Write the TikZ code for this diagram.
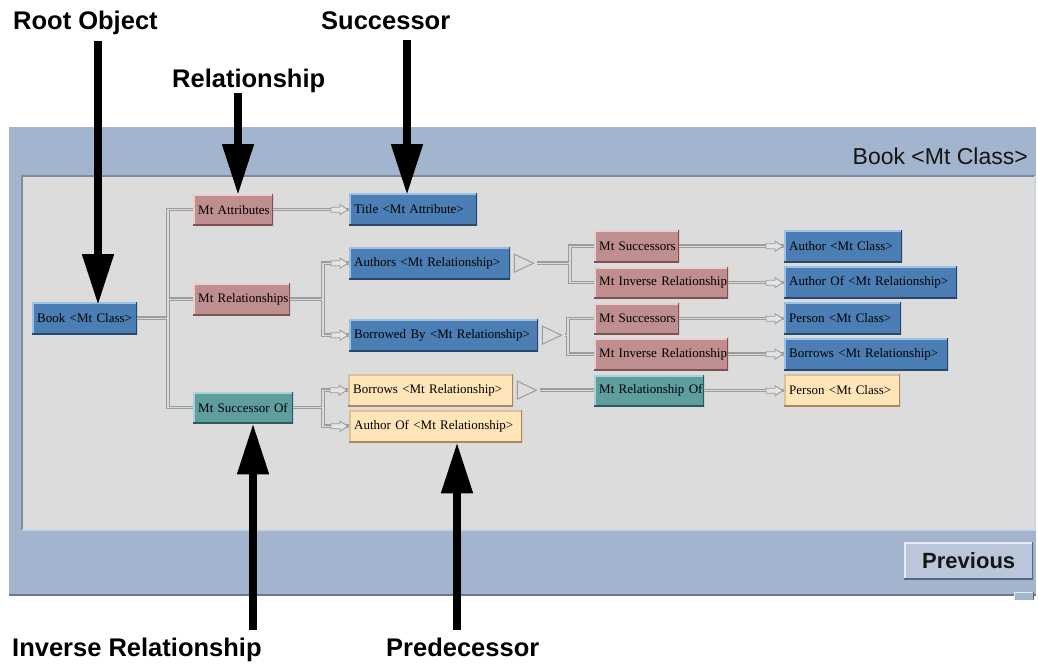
\documentclass[tikz,border=0pt]{standalone}
\usepackage{fontspec}
\setmainfont{Liberation Serif}
\newfontfamily\lsans{Liberation Sans}
\usetikzlibrary{arrows.meta,calc}
\definecolor{panelblue}{HTML}{A3B5CE}
\definecolor{paneldark}{HTML}{6B7A90}
\definecolor{innergray}{HTML}{DCDCDC}
\definecolor{innerdark}{HTML}{7D8CA0}
\definecolor{innerlight}{HTML}{C9D5E5}
\definecolor{bfill}{HTML}{4A7EB4}
\definecolor{blight}{HTML}{9DC1E4}
\definecolor{bdark}{HTML}{27476B}
\definecolor{pfill}{HTML}{BF8E8E}
\definecolor{plight}{HTML}{EBCFCF}
\definecolor{pdark}{HTML}{7D5252}
\definecolor{tfill}{HTML}{5E9E9F}
\definecolor{tlight}{HTML}{A9D3D3}
\definecolor{tdark}{HTML}{2F5A5B}
\definecolor{yfill}{HTML}{FFE5B8}
\definecolor{ylight}{HTML}{D9C295}
\definecolor{ydark}{HTML}{A88A5A}
\definecolor{coutc}{HTML}{9C9C9C}
\definecolor{cinc}{HTML}{DADADA}
\definecolor{tipfill}{HTML}{E4E4E4}
\definecolor{tipdraw}{HTML}{9C9C9C}
\definecolor{btnfill}{HTML}{BAC7DA}
\definecolor{btnlight}{HTML}{E4ECF4}
\definecolor{btndark}{HTML}{56667C}
\definecolor{titlec}{HTML}{151515}
\newcommand\myconns[1]{%
  \draw[#1] (book.east) -- (sA |- book.east);
  \draw[#1] (attr.west) -- (sA |- attr.west) -- (sA |- succof.west) -- (succof.west);
  \draw[#1] (sA |- rels.west) -- (rels.west);
  \draw[#1] (attr.east) -- (attr.east -| title.west);
  \draw[#1] (rels.east) -- (sB |- rels.east);
  \draw[#1] (authors.west) -- (sB |- authors.west) -- (sB |- borrowed.west) -- (borrowed.west);
  \draw[#1] (succof.east) -- (sB |- succof.east);
  \draw[#1] (borrows.west) -- (sB |- borrows.west) -- (sB |- authorof.west) -- (authorof.west);
  \draw[#1] (tA) -- (sC |- tA);
  \draw[#1] (msuca.west) -- (sC |- msuca.west) -- (sC |- minva.west) -- (minva.west);
  \draw[#1] (tB) -- (sD |- tB);
  \draw[#1] (msucb.west) -- (sD |- msucb.west) -- (sD |- minvb.west) -- (minvb.west);
  \draw[#1] (tC) -- (tC -| relof.west);
  \draw[#1] (msuca.east) -- (msuca.east -| authorc.west);
  \draw[#1] (minva.east) -- (minva.east -| authorofr.west);
  \draw[#1] (msucb.east) -- (msucb.east -| personc.west);
  \draw[#1] (minvb.east) -- (minvb.east -| borrowsr.west);
  \draw[#1] (relof.east) -- (relof.east -| persony.west);
}
\newcommand\mytip[1]{%
  \draw[smalltip] ($(#1)+(-1,0)$) -- ++(-8,-5) -- ++(0,2.5) -- ++(-9,0) -- ++(0,5) -- ++(9,0) -- ++(0,2.5) -- cycle;}
\newcommand\mybigtri[2]{%
  \draw[bigtri] ($(#1.east)+(4,-9)$) -- ($(#1.east)+(23,0)$) -- ($(#1.east)+(4,9)$) -- cycle;
  \coordinate (#2) at ($(#1.east)+(27,0)$);}
\tikzset{
  obox/.style n args={3}{fill=#1, draw=none,
    path picture={
      \draw[#2, line width=3.4pt] (path picture bounding box.south west) -- (path picture bounding box.north west) -- (path picture bounding box.north east);
      \draw[#3, line width=3.4pt] (path picture bounding box.north east) -- (path picture bounding box.south east) -- (path picture bounding box.south west);}},
  box/.style={anchor=north west, inner xsep=5pt, inner ysep=0pt, align=left,
    font=\fontsize{13}{15}\selectfont, text=black},
  bluebox/.style={box, obox={bfill}{blight}{bdark}},
  pinkbox/.style={box, obox={pfill}{plight}{pdark}},
  tealbox/.style={box, obox={tfill}{tlight}{tdark}},
  yelbox/.style={box, obox={yfill}{ylight}{ydark}},
  cout/.style={draw=coutc, line width=3.5pt},
  cin/.style={draw=cinc, line width=1.2pt},
  smalltip/.style={fill=tipfill, draw=tipdraw, line width=0.9pt, line join=miter},
  bigtri/.style={fill=innergray, draw=tipdraw, line width=1pt, line join=miter},
  bigarr/.style={draw=black, line width=8pt, -{Triangle[length=51pt,width=30pt]}},
  lbl/.style={font=\lsans\bfseries\fontsize{25.5}{30}\selectfont, inner sep=0pt, text=black}
}
\begin{document}
\begin{tikzpicture}[x=1pt,y=-1pt]
\useasboundingbox (0,0) rectangle (1038,665);
\fill[white] (0,0) rectangle (1038,665);
% window panel
\fill[panelblue] (9,127) rectangle (1036,595);
\draw[paneldark, line width=1.2pt] (9,595) -- (1036,595);
\fill[innergray] (22,176) rectangle (1035,530);
\draw[innerdark, line width=1.5pt] (22,530) -- (22,176) -- (1035,176);
\draw[innerlight, line width=1.5pt] (22,530) -- (1035,530) -- (1035,176);
\node[font=\lsans\fontsize{23}{27}\selectfont, anchor=base east, inner sep=0pt, text=titlec] (wintitle) at (1028,164) {Book <Mt Class>};
\node[anchor=north west, minimum width=129pt, minimum height=37pt, inner sep=0pt,
  obox={btnfill}{btnlight}{btndark}, font=\lsans\bfseries\fontsize{22}{26}\selectfont, text=titlec] (prev) at (904,542) {Previous};
\fill[panelblue] (1014,592) rectangle (1033,600);
\draw[btnlight, line width=1pt] (1014,600) -- (1014,592) -- (1033,592);
\draw[btndark, line width=1pt] (1033,592) -- (1033,600);
% boxes
\node[bluebox, minimum width=105pt, minimum height=32pt, text width=95pt] (book) at (32,302) {\mbox{Book <Mt Class>}};
\node[pinkbox, minimum width=80pt, minimum height=31pt, text width=70pt] (attr) at (193,194) {\mbox{Mt Attributes}};
\node[pinkbox, minimum width=97pt, minimum height=32pt, text width=87pt] (rels) at (193,283) {\mbox{Mt Relationships}};
\node[tealbox, minimum width=100pt, minimum height=31pt, text width=90pt] (succof) at (193,392) {\mbox{Mt Successor Of}};
\node[bluebox, minimum width=128pt, minimum height=32pt, text width=118pt] (title) at (349,193) {\mbox{Title <Mt Attribute>}};
\node[bluebox, minimum width=161pt, minimum height=32pt, text width=151pt] (authors) at (349,247) {\mbox{Authors <Mt Relationship>}};
\node[bluebox, minimum width=189pt, minimum height=32pt, text width=179pt] (borrowed) at (349,319) {\mbox{Borrowed By <Mt Relationship>}};
\node[yelbox, minimum width=165pt, minimum height=32pt, text width=155pt] (borrows) at (348,374) {\mbox{Borrows <Mt Relationship>}};
\node[yelbox, minimum width=173pt, minimum height=32pt, text width=163pt] (authorof) at (349,410) {\mbox{Author Of <Mt Relationship>}};
\node[pinkbox, minimum width=85pt, minimum height=32pt, text width=75pt] (msuca) at (594,230) {\mbox{Mt Successors}};
\node[pinkbox, minimum width=134pt, minimum height=31pt, text width=124pt] (minva) at (594,267) {\mbox{Mt Inverse Relationship}};
\node[pinkbox, minimum width=85pt, minimum height=31pt, text width=75pt] (msucb) at (594,303) {\mbox{Mt Successors}};
\node[pinkbox, minimum width=134pt, minimum height=32pt, text width=124pt] (minvb) at (594,338) {\mbox{Mt Inverse Relationship}};
\node[tealbox, minimum width=110pt, minimum height=31pt, text width=100pt] (relof) at (594,375) {\mbox{Mt Relationship Of}};
\node[bluebox, minimum width=118pt, minimum height=32pt, text width=108pt] (authorc) at (784,230) {\mbox{Author <Mt Class>}};
\node[bluebox, minimum width=173pt, minimum height=32pt, text width=163pt] (authorofr) at (784,266) {\mbox{Author Of <Mt Relationship>}};
\node[bluebox, minimum width=117pt, minimum height=32pt, text width=107pt] (personc) at (784,302) {\mbox{Person <Mt Class>}};
\node[bluebox, minimum width=164pt, minimum height=32pt, text width=154pt] (borrowsr) at (784,338) {\mbox{Borrows <Mt Relationship>}};
\node[yelbox, minimum width=116pt, minimum height=32pt, text width=106pt] (persony) at (784,374) {\mbox{Person <Mt Class>}};
% spines and triangles
\coordinate (sA) at (168,0);
\coordinate (sB) at (323,0);
\coordinate (sC) at (570,0);
\coordinate (sD) at (568,0);
\mybigtri{authors}{tA}
\mybigtri{borrowed}{tB}
\mybigtri{borrows}{tC}
% connectors
\myconns{cout}
\myconns{cin}
\mytip{attr.east -| title.west}
\mytip{authors.west}
\mytip{borrowed.west}
\mytip{borrows.west}
\mytip{authorof.west}
\mytip{msuca.east -| authorc.west}
\mytip{minva.east -| authorofr.west}
\mytip{msucb.east -| personc.west}
\mytip{minvb.east -| borrowsr.west}
\mytip{relof.east -| persony.west}
% annotation labels and arrows
\node[lbl, anchor=base west] (rootlbl) at (13,29) {Root Object};
\node[lbl, anchor=base west] (succlbl) at (321,29) {Successor};
\node[lbl, anchor=base west] (rellbl) at (172,87) {Relationship};
\node[lbl, anchor=base west] (invlbl) at (12,656) {Inverse Relationship};
\node[lbl, anchor=base west] (predlbl) at (386,656) {Predecessor};
\coordinate (rootst) at (98,41);
\coordinate (relst) at (238,93);
\coordinate (succst) at (407,40);
\coordinate (invst) at (253,630);
\coordinate (predst) at (457,630);
\draw[bigarr] (rootst) -- ($(rootst |- book.north)+(0,3)$);
\draw[bigarr] (relst) -- ($(relst |- attr.north)+(0,1)$);
\draw[bigarr] (succst) -- ($(succst |- title.north)+(0,2)$);
\draw[bigarr] (invst) -- (invst |- succof.south);
\draw[bigarr] (predst) -- (predst |- authorof.south);
\end{tikzpicture}
\end{document}
